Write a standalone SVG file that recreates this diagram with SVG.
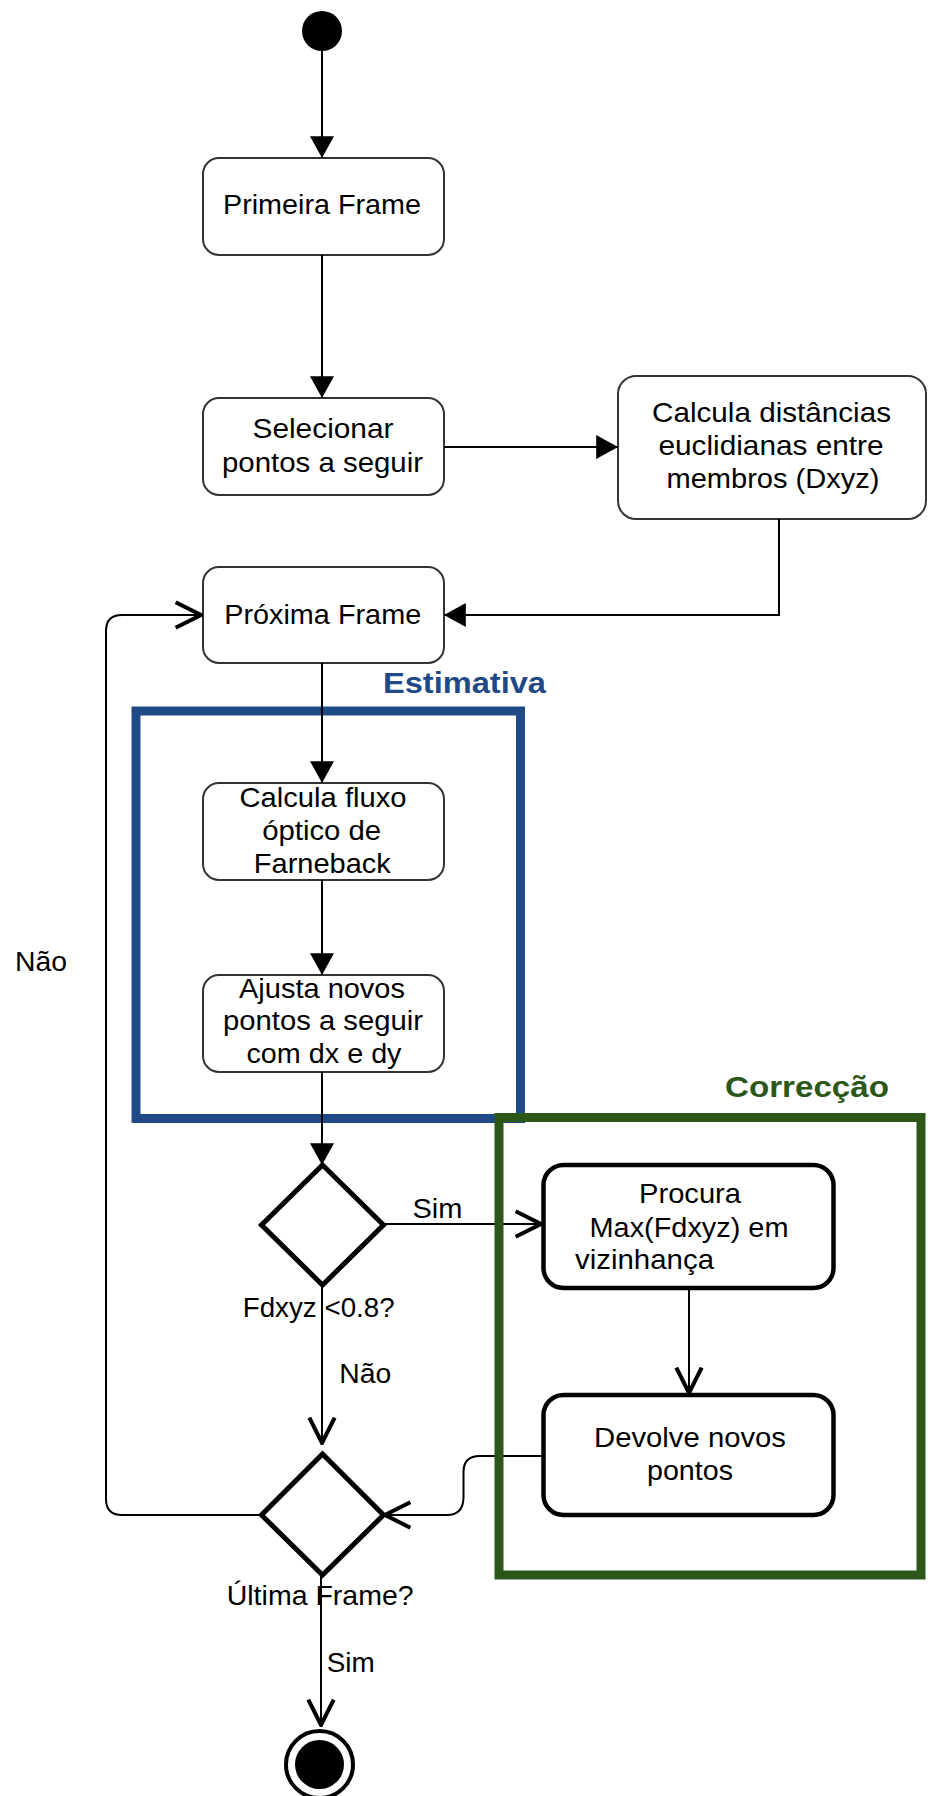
<svg xmlns="http://www.w3.org/2000/svg" width="928" height="1796" viewBox="0 0 928 1796">
<style>
  .t { font-family: "Liberation Sans", Arial, sans-serif; font-size: 27.5px; fill: #000; }
  .c { text-anchor: middle; }
  .box { fill: #fff; stroke: #333; stroke-width: 2; }
  .bold { fill: #fff; stroke: #000; stroke-width: 4.5; }
  .dia { fill: #fff; stroke: #000; stroke-width: 5; stroke-linejoin: miter; }
  .ln { fill: none; stroke: #000; stroke-width: 2; }
  .grp { fill: none; stroke-width: 9; }
  .lbl { font-family: "Liberation Sans", Arial, sans-serif; font-size: 29.5px; font-weight: bold; }
</style>
<defs>
  <marker id="fill" markerUnits="userSpaceOnUse" markerWidth="24" markerHeight="24" viewBox="0 0 20 22" refX="20" refY="11" orient="auto">
    <path d="M0,0 L20,11 L0,22 Z" fill="#000"/>
  </marker>
  <marker id="open" markerUnits="userSpaceOnUse" markerWidth="30" markerHeight="30" viewBox="-2 -2 26 26" refX="22" refY="11" orient="auto">
    <path d="M0,0 L22,11 L0,22" fill="none" stroke="#000" stroke-width="3.5"/>
  </marker>
</defs>

<!-- group frames -->
<g id="estimativa">
  <rect class="grp" x="136" y="711" width="384.5" height="407.5" stroke="#1f4a86"/>
  <text class="lbl" x="383" y="693" fill="#1f4a86" textLength="163" lengthAdjust="spacingAndGlyphs">Estimativa</text>
</g>

<g id="start"><circle cx="322" cy="31" r="20" fill="#000"/></g>

<g id="primeira">
  <rect class="box" x="203" y="158" width="241" height="97" rx="16"/>
  <text class="t c" x="322" y="214" textLength="198" lengthAdjust="spacingAndGlyphs">Primeira Frame</text>
</g>

<g id="selecionar">
  <rect class="box" x="203" y="398" width="241" height="97" rx="16"/>
  <text class="t c" x="323" y="438" textLength="141" lengthAdjust="spacingAndGlyphs">Selecionar</text>
  <text class="t c" x="322.5" y="472" textLength="201" lengthAdjust="spacingAndGlyphs">pontos a seguir</text>
</g>

<g id="calcula-dist">
  <rect class="box" x="618" y="376" width="308" height="143" rx="18"/>
  <text class="t c" x="771.5" y="422" textLength="239" lengthAdjust="spacingAndGlyphs">Calcula distâncias</text>
  <text class="t c" x="771" y="455" textLength="225" lengthAdjust="spacingAndGlyphs">euclidianas entre</text>
  <text class="t c" x="773" y="488" textLength="213" lengthAdjust="spacingAndGlyphs">membros (Dxyz)</text>
</g>

<g id="proxima">
  <rect class="box" x="203" y="567" width="241" height="96" rx="16"/>
  <text class="t c" x="322.7" y="624" textLength="197" lengthAdjust="spacingAndGlyphs">Próxima Frame</text>
</g>

<g id="fluxo">
  <rect class="box" x="203" y="783" width="241" height="97" rx="16"/>
  <text class="t c" x="323" y="807" textLength="167" lengthAdjust="spacingAndGlyphs">Calcula fluxo</text>
  <text class="t c" x="321.7" y="840" textLength="119" lengthAdjust="spacingAndGlyphs">óptico de</text>
  <text class="t c" x="322.3" y="873" textLength="137" lengthAdjust="spacingAndGlyphs">Farneback</text>
</g>

<g id="ajusta">
  <rect class="box" x="203" y="975" width="241" height="97" rx="16"/>
  <text class="t c" x="322" y="998" textLength="166" lengthAdjust="spacingAndGlyphs">Ajusta novos</text>
  <text class="t c" x="323" y="1030" textLength="200" lengthAdjust="spacingAndGlyphs">pontos a seguir</text>
  <text class="t c" x="324" y="1063" textLength="155" lengthAdjust="spacingAndGlyphs">com dx e dy</text>
</g>

<g id="connectors">
  <path class="ln" d="M322,51 L322,158" marker-end="url(#fill)"/>
  <path class="ln" d="M322,255 L322,398" marker-end="url(#fill)"/>
  <path class="ln" d="M444,447 L618,447" marker-end="url(#fill)"/>
  <path class="ln" d="M779,519 L779,615 L444,615" marker-end="url(#fill)"/>
  <path class="ln" d="M322,663 L322,783" marker-end="url(#fill)"/>
  <path class="ln" d="M322,880 L322,975" marker-end="url(#fill)"/>
  <path class="ln" d="M322,1072 L322,1165" marker-end="url(#fill)"/>
  <path class="ln" d="M384,1224 L541,1224" marker-end="url(#open)"/>
  <path class="ln" d="M689,1288 L689,1393" marker-end="url(#open)"/>
  <path class="ln" d="M543,1456 L480,1456 Q463.5,1456 463.5,1472 L463.5,1497 Q463.5,1515 447,1515 L385,1515" marker-end="url(#open)"/>
  <path class="ln" d="M322,1285 L322,1443" marker-end="url(#open)"/>
  <path class="ln" d="M262,1515 L122,1515 Q106,1515 106,1499 L106,631 Q106,615 122,615 L201,615" marker-end="url(#open)"/>
  <path class="ln" d="M321,1576 L321,1725" marker-end="url(#open)"/>
  <text class="t" x="412.5" y="1218" textLength="50" lengthAdjust="spacingAndGlyphs">Sim</text>
  <text class="t" x="242.7" y="1317" textLength="152" lengthAdjust="spacingAndGlyphs">Fdxyz &lt;0.8?</text>
  <text class="t" x="339.3" y="1383" textLength="52" lengthAdjust="spacingAndGlyphs">Não</text>
  <text class="t" x="226.7" y="1605" textLength="187" lengthAdjust="spacingAndGlyphs">Última Frame?</text>
  <text class="t" x="326.7" y="1672" textLength="48" lengthAdjust="spacingAndGlyphs">Sim</text>
  <text class="t" x="15" y="971" textLength="52" lengthAdjust="spacingAndGlyphs">Não</text>
</g>

<g id="correccao">
  <rect class="grp" x="499" y="1117.5" width="422" height="457.5" stroke="#2c5719" stroke-width="10"/>
  <text class="lbl" x="725" y="1097" fill="#2c5719" textLength="164" lengthAdjust="spacingAndGlyphs">Correcção</text>
</g>

<g id="decisao1">
  <polygon class="dia" points="322.5,1165 383.5,1225 322.5,1285 261.5,1225"/>
</g>

<g id="procura">
  <rect class="bold" x="543.5" y="1165" width="290" height="123" rx="20"/>
  <text class="t c" x="690" y="1203" textLength="102" lengthAdjust="spacingAndGlyphs">Procura</text>
  <text class="t c" x="689" y="1237" textLength="199" lengthAdjust="spacingAndGlyphs">Max(Fdxyz) em</text>
  <text class="t" x="575" y="1269" textLength="139" lengthAdjust="spacingAndGlyphs">vizinhança</text>
</g>

<g id="devolve">
  <rect class="bold" x="543.5" y="1395" width="290" height="120" rx="20"/>
  <text class="t c" x="690" y="1447" textLength="192" lengthAdjust="spacingAndGlyphs">Devolve novos</text>
  <text class="t c" x="690" y="1480" textLength="86" lengthAdjust="spacingAndGlyphs">pontos</text>
</g>

<g id="decisao2">
  <polygon class="dia" points="322.5,1454 383.5,1515 322.5,1575 261.5,1515"/>
</g>

<g id="end">
  <circle cx="319.5" cy="1764.5" r="33.5" fill="none" stroke="#000" stroke-width="4"/>
  <circle cx="319.5" cy="1764.5" r="24.5" fill="#000"/>
</g>
</svg>
